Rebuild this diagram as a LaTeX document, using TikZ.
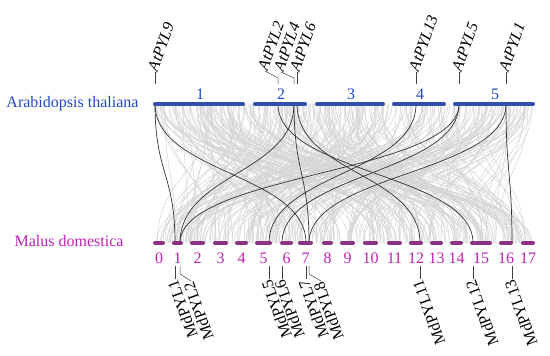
\documentclass[tikz,border=0pt]{standalone}
\usepackage{fontspec}
\setmainfont{Liberation Serif}
\usetikzlibrary{positioning}
\definecolor{atblue}{RGB}{35,70,200}
\definecolor{atbar}{RGB}{50,80,170}
\definecolor{mdpink}{RGB}{190,35,180}
\definecolor{mdbar}{RGB}{140,50,130}
\definecolor{linkgrey}{RGB}{212,212,212}

\begin{document}
\begin{tikzpicture}[x=1pt,y=-1pt,font=\fontsize{16}{18}\selectfont,
  atchr/.style={line width=4pt,line cap=round,draw=atbar},
  mdchr/.style={line width=4pt,line cap=round,draw=mdbar},
  chrnum/.style={inner sep=0pt,anchor=base},
  atlab/.style={rotate=70,anchor=mid west,inner sep=0.5pt,font=\fontsize{16}{18}\selectfont\itshape},
  mdlab/.style={rotate=110,anchor=mid east,inner sep=0.5pt},
  lead/.style={draw=black!75,line width=0.5pt},
  bglink/.style={draw=linkgrey,line width=0.5pt},
  link/.style={draw=black!80,line width=0.7pt}]
\useasboundingbox (0,0) rectangle (550,356);
\coordinate (mid) at (0,173.5);
\pgfmathsetseed{31}
\foreach \i in {1,...,330}{
  \pgfmathsetmacro{\ua}{155+378*rnd}
  \pgfmathsetmacro{\ub}{155+378*rnd}
  \draw[bglink] (\ua,104) .. controls (\ua,173.5) and (\ub,173.5) .. (\ub,243);
}
\coordinate (AtPYL9) at (155,104);
\coordinate (AtPYL2) at (278,104);
\coordinate (AtPYL4) at (294,104);
\coordinate (AtPYL6) at (297,104);
\coordinate (AtPYL13) at (416,104);
\coordinate (AtPYL5) at (459,104);
\coordinate (AtPYL1) at (506,104);
\coordinate (MdPYL1) at (175,243);
\coordinate (MdPYL2) at (180,243);
\coordinate (MdPYL5) at (269,243);
\coordinate (MdPYL6) at (282,243);
\coordinate (MdPYL7) at (306,243);
\coordinate (MdPYL8) at (309,243);
\coordinate (MdPYL11) at (420,243);
\coordinate (MdPYL12) at (473,243);
\coordinate (MdPYL13) at (512,243);
\foreach \s/\t in {AtPYL9/MdPYL1,AtPYL9/MdPYL7,AtPYL4/MdPYL2,AtPYL4/MdPYL8,AtPYL6/MdPYL11,
  AtPYL2/MdPYL12,AtPYL13/MdPYL5,AtPYL5/MdPYL2,AtPYL5/MdPYL6,AtPYL1/MdPYL8,AtPYL1/MdPYL13}
  \draw[link] (\s) .. controls (\s |- mid) and (\t |- mid) .. (\t);
\foreach \n/\a/\b in {1/153/245,2/253/307,3/315/385,4/392/446,5/453/535}{
  \draw[atchr] (\a+2,104) -- (\b-2,104);
  \node[chrnum,text=atblue] (at\n) at ({(\a+\b)/2+1},99.5) {\n};
}
\foreach \n/\a/\b in {0/153/165,1/172/183,2/190/205,3/213/228,4/235/248,5/255/272,
  6/280/293,7/298/313,8/322/333,9/340/355,10/363/378,11/387/402,12/409/423,
  13/430/443,14/450/463,15/470/492,16/499/513,17/521/535}{
  \draw[mdchr] (\a+2,243) -- (\b-2,243);
  \node[chrnum,text=mdpink] (md\n) at ({(\a+\b)/2},263) {\n};
}
\node[anchor=base east,text=atblue] (atname) at (142,107) {Arabidopsis thaliana};
\node[anchor=base east,text=mdpink] (mdname) at (127,246) {Malus domestica};
\foreach \g/\x in {9/155,13/416,5/459,1/506}
  \draw[lead] (\x,84) -- (\x,72) node[atlab] (tAt\g) {AtPYL\g};
\draw[lead] (278,84) -- (278,78) -- (265,71) node[atlab] (tAt2) {AtPYL2};
\draw[lead] (294,84) -- (294,78) -- (281,72) node[atlab] (tAt4) {AtPYL4};
\draw[lead] (297,84) -- (297,72) node[atlab] (tAt6) {AtPYL6};
\foreach \g/\x in {1/175,5/269,6/282,7/306,11/420,12/473,13/512}
  \draw[lead] (\x,266) -- (\x,279) node[mdlab] (tMd\g) {MdPYL\g};
\draw[lead] (180,266) -- (180,274) -- (191,281) node[mdlab] (tMd2) {MdPYL2};
\draw[lead] (309,266) -- (309,274) -- (321,281) node[mdlab] (tMd8) {MdPYL8};
\end{tikzpicture}
\end{document}
